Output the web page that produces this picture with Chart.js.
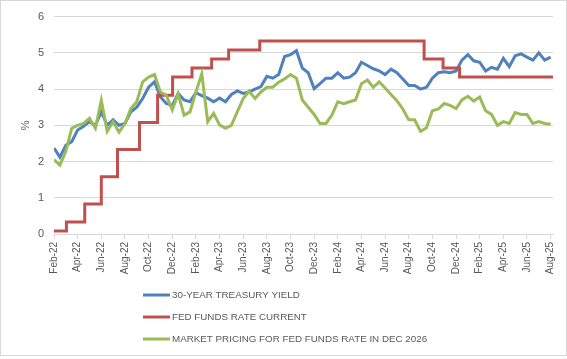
<!DOCTYPE html>
<html>
<head>
<meta charset="utf-8">
<script src="https://cdn.jsdelivr.net/npm/chart.js@4.4.1/dist/chart.umd.min.js"></script>
<style>
  html, body { margin: 0; padding: 0; background: #fff; }
</style>
</head>
<body>
<canvas id="rateChart" width="567" height="359"></canvas>
<script>
// Axis tick labels, one every two months starting Feb-22
const tickLabels = ['Feb-22', 'Apr-22', 'Jun-22', 'Aug-22', 'Oct-22', 'Dec-22',
  'Feb-23', 'Apr-23', 'Jun-23', 'Aug-23', 'Oct-23', 'Dec-23',
  'Feb-24', 'Apr-24', 'Jun-24', 'Aug-24', 'Oct-24', 'Dec-24',
  'Feb-25', 'Apr-25', 'Jun-25', 'Aug-25'];

// Semi-monthly readings (months since Feb-22: 0, 0.5, 1, ...)
const treasuryYield = [
  2.37, 2.12, 2.45, 2.55, 2.87, 2.97, 3.10, 3.00, 3.37, 3.00,
  3.15, 3.00, 3.05, 3.37, 3.50, 3.74, 4.05, 4.20, 3.78, 3.60,
  3.55, 3.88, 3.70, 3.65, 3.90, 3.82, 3.75, 3.65, 3.75, 3.65,
  3.85, 3.95, 3.88, 3.92, 4.00, 4.07, 4.35, 4.30, 4.40, 4.90,
  4.95, 5.06, 4.58, 4.45, 4.01, 4.15, 4.30, 4.30, 4.45, 4.30,
  4.33, 4.45, 4.74, 4.65, 4.56, 4.50, 4.40, 4.55, 4.45, 4.28,
  4.10, 4.10, 4.00, 4.05, 4.30, 4.45, 4.48, 4.45, 4.50, 4.80,
  4.95, 4.78, 4.74, 4.50, 4.60, 4.55, 4.85, 4.62, 4.92, 4.97,
  4.88, 4.80, 5.00, 4.80, 4.88
];
const marketPricing = [
  2.05, 1.90, 2.28, 2.92, 3.00, 3.05, 3.19, 2.92, 3.69, 2.83,
  3.10, 2.81, 3.05, 3.46, 3.65, 4.20, 4.33, 4.40, 3.92, 3.83,
  3.42, 3.87, 3.28, 3.37, 3.92, 4.42, 3.10, 3.33, 3.01, 2.92,
  3.00, 3.37, 3.74, 3.94, 3.74, 3.92, 4.05, 4.05, 4.19, 4.28,
  4.40, 4.30, 3.70, 3.50, 3.30, 3.05, 3.05, 3.28, 3.65, 3.60,
  3.65, 3.70, 4.15, 4.25, 4.05, 4.20, 4.03, 3.85, 3.68, 3.45,
  3.15, 3.15, 2.83, 2.93, 3.40, 3.45, 3.60, 3.55, 3.46, 3.70,
  3.80, 3.67, 3.78, 3.40, 3.30, 3.00, 3.10, 3.05, 3.35, 3.30,
  3.30, 3.05, 3.10, 3.05, 3.03
];

// Fed funds rate: month where each level starts, and the level
const fedMonths = [0, 1.05, 2.6, 4.0, 5.37, 7.23, 8.76, 10.03, 11.67, 13.33, 14.77, 17.4, 31.3, 32.9, 34.3, 42.2];
const fedLevels = [0.08, 0.33, 0.83, 1.58, 2.33, 3.08, 3.83, 4.33, 4.58, 4.83, 5.08, 5.33, 4.83, 4.58, 4.33, 4.33];

const toPoints = (vals) => vals.map((v, i) => ({ x: i / 2, y: v }));

const gray = '#595959';
const gridGray = '#d9d9d9';
const tickFont = { family: "'Liberation Sans', Arial, sans-serif", size: 10 };

// Legend drawn as a left-aligned block, plus the chart border
const legendBlock = {
  id: 'legendBlock',
  afterDraw(chart) {
    const ctx = chart.ctx;
    ctx.save();
    ctx.strokeStyle = gridGray;
    ctx.lineWidth = 1;
    ctx.strokeRect(0.5, 0.5, chart.width - 1, chart.height - 4);
    ctx.font = "9.8px 'Liberation Sans Narrow', 'Liberation Sans', sans-serif";
    ctx.textBaseline = 'middle';
    ctx.fillStyle = gray;
    chart.data.datasets.forEach((ds, i) => {
      const y = 295 + i * 22;
      ctx.strokeStyle = ds.borderColor;
      ctx.lineWidth = 3;
      ctx.beginPath();
      ctx.moveTo(143, y);
      ctx.lineTo(170, y);
      ctx.stroke();
      ctx.fillText(ds.label, 172, y + 0.5);
    });
    ctx.restore();
  }
};

const ctx = document.getElementById('rateChart').getContext('2d');
new Chart(ctx, {
  type: 'line',
  data: {
    datasets: [
      {
        label: '30-YEAR TREASURY YIELD',
        data: toPoints(treasuryYield),
        borderColor: '#4F81BD',
        borderWidth: 3,
        pointRadius: 0,
        order: 2
      },
      {
        label: 'FED FUNDS RATE CURRENT',
        data: fedMonths.map((m, i) => ({ x: m, y: fedLevels[i] })),
        borderColor: '#C0504D',
        borderWidth: 3,
        pointRadius: 0,
        stepped: true,
        order: 1
      },
      {
        label: 'MARKET PRICING FOR FED FUNDS RATE IN DEC 2026',
        data: toPoints(marketPricing),
        borderColor: '#9BBB59',
        borderWidth: 3,
        pointRadius: 0,
        order: 0
      }
    ]
  },
  options: {
    responsive: false,
    animation: false,
    devicePixelRatio: 1,
    layout: { padding: { top: 7, right: 14, bottom: 79, left: 0 } },
    plugins: {
      legend: { display: false },
      tooltip: { enabled: false }
    },
    scales: {
      x: {
        type: 'linear',
        min: 0,
        max: 42.2,
        afterFit: (s) => { s.height = 46; },
        ticks: {
          stepSize: 2,
          autoSkip: false,
          includeBounds: false,
          minRotation: 90,
          maxRotation: 90,
          padding: 3,
          color: gray,
          font: tickFont,
          callback: (v) => tickLabels[v / 2] ?? ''
        },
        grid: { drawOnChartArea: false, drawTicks: true, tickLength: 5, color: gridGray },
        border: { display: true, color: gridGray }
      },
      y: {
        min: 0,
        max: 6,
        afterFit: (s) => { s.width = 54; },
        ticks: { stepSize: 1, padding: 10, color: gray, font: { ...tickFont, size: 11 } },
        grid: { color: gridGray, drawTicks: false },
        border: { display: false },
        title: {
          display: true,
          text: '%',
          color: gray,
          font: { ...tickFont, size: 11 },
          padding: { top: 19, bottom: 0 }
        }
      }
    }
  },
  plugins: [legendBlock]
});
</script>
</body>
</html>
